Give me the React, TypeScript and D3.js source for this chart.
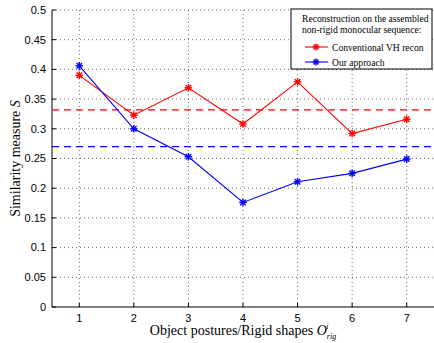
import React from "react";
import * as d3 from "d3";

const postures = [1, 2, 3, 4, 5, 6, 7];
const conventional = [0.39, 0.323, 0.369, 0.308, 0.379, 0.292, 0.316];
const ourApproach = [0.406, 0.3, 0.253, 0.176, 0.211, 0.225, 0.249];
const conventionalMean = 0.332;
const ourMean = 0.27;
const yTicks = [0, 0.05, 0.1, 0.15, 0.2, 0.25, 0.3, 0.35, 0.4, 0.45, 0.5];
const legendTitle = ["Reconstruction on the assembled", "non-rigid monocular sequence:"];
const seriesNames = ["Conventional VH recon", "Our approach"];

const W = 434;
const H = 343;
const left = 52;
const right = 434;
const top = 10;
const bottom = 307;

const sans = "'Liberation Sans', Arial, sans-serif";
const serif = "'Liberation Serif', 'Times New Roman', serif";

function Star({ x, y, color, r = 3.8 }: { x: number; y: number; color: string; r?: number }) {
  const d = r * 0.72;
  return (
    <g stroke={color} strokeWidth={1.4}>
      <line x1={x - r} y1={y} x2={x + r} y2={y} />
      <line x1={x} y1={y - r} x2={x} y2={y + r} />
      <line x1={x - d} y1={y - d} x2={x + d} y2={y + d} />
      <line x1={x - d} y1={y + d} x2={x + d} y2={y - d} />
    </g>
  );
}

export default function App() {
  const x = d3.scaleLinear().domain([0.5, 7.5]).range([left, right]);
  const y = d3.scaleLinear().domain([0, 0.5]).range([bottom, top]);

  const line = d3
    .line<number>()
    .x((_, i) => x(postures[i]))
    .y((d) => y(d));

  const series = [
    { values: conventional, mean: conventionalMean, color: "#ff0000", name: seriesNames[0] },
    { values: ourApproach, mean: ourMean, color: "#0000ff", name: seriesNames[1] },
  ];

  const lx = 291;
  const ly = 9;

  return (
    <svg
      width={W}
      height={H}
      style={{ position: "absolute", left: 0, top: 0, background: "#fff" }}
    >
      {/* grid */}
      <g stroke="#444" strokeWidth={0.8} strokeDasharray="1,3">
        {yTicks.slice(1).map((t) => (
          <line key={"gy" + t} x1={left} x2={right} y1={y(t)} y2={y(t)} />
        ))}
        {postures.map((p) => (
          <line key={"gx" + p} x1={x(p)} x2={x(p)} y1={top} y2={bottom} />
        ))}
      </g>

      {/* axes */}
      <line x1={left} x2={left} y1={top} y2={bottom} stroke="#000" strokeWidth={1} />
      <line x1={left} x2={right} y1={bottom} y2={bottom} stroke="#000" strokeWidth={1} />
      {yTicks.map((t) => (
        <g key={"ty" + t}>
          <line x1={left} x2={left + 4} y1={y(t)} y2={y(t)} stroke="#000" />
          <text
            x={left - 6}
            y={y(t)}
            dy="0.35em"
            textAnchor="end"
            fontFamily={sans}
            fontSize={11}
          >
            {t}
          </text>
        </g>
      ))}
      {postures.map((p) => (
        <g key={"tx" + p}>
          <line x1={x(p)} x2={x(p)} y1={bottom} y2={bottom - 4} stroke="#000" />
          <text x={x(p)} y={bottom + 15} textAnchor="middle" fontFamily={sans} fontSize={11}>
            {p}
          </text>
        </g>
      ))}

      {/* mean lines */}
      {series.map((s) => (
        <line
          key={"m" + s.name}
          x1={left}
          x2={right}
          y1={y(s.mean)}
          y2={y(s.mean)}
          stroke={s.color}
          strokeWidth={1.3}
          strokeDasharray="7,5"
        />
      ))}

      {/* series */}
      {series.map((s) => (
        <g key={s.name}>
          <path d={line(s.values) || ""} fill="none" stroke={s.color} strokeWidth={1.1} />
          {s.values.map((v, i) => (
            <Star key={i} x={x(postures[i])} y={y(v)} color={s.color} />
          ))}
        </g>
      ))}

      {/* axis labels */}
      <text
        transform={`translate(20,${(top + bottom) / 2}) rotate(-90)`}
        textAnchor="middle"
        fontFamily={serif}
        fontSize={14}
      >
        Similarity measure <tspan fontStyle="italic">S</tspan>
      </text>
      <text x={(left + right) / 2} y={335} textAnchor="middle" fontFamily={serif} fontSize={14}>
        Object postures/Rigid shapes <tspan fontStyle="italic">O</tspan>
        <tspan fontStyle="italic" fontSize={8} dy={4}>rig</tspan>
        <tspan fontStyle="italic" fontSize={8} dx={-10} dy={-10}>i</tspan>
      </text>

      {/* legend */}
      <rect x={lx} y={ly} width={141} height={60} fill="#fff" stroke="#000" strokeWidth={1} />
      {legendTitle.map((t, i) => (
        <text key={t} x={lx + 11} y={ly + 13 + i * 11} fontFamily={serif} fontSize={9.6}>
          {t}
        </text>
      ))}
      {series.map((s, i) => (
        <g key={"lg" + s.name}>
          <line
            x1={lx + 14}
            x2={lx + 37}
            y1={ly + 38 + i * 15}
            y2={ly + 38 + i * 15}
            stroke={s.color}
            strokeWidth={1.1}
          />
          <Star x={lx + 25} y={ly + 38 + i * 15} color={s.color} r={3.4} />
          <text x={lx + 41} y={ly + 41.5 + i * 15} fontFamily={serif} fontSize={9.6}>
            {s.name}
          </text>
        </g>
      ))}
    </svg>
  );
}
